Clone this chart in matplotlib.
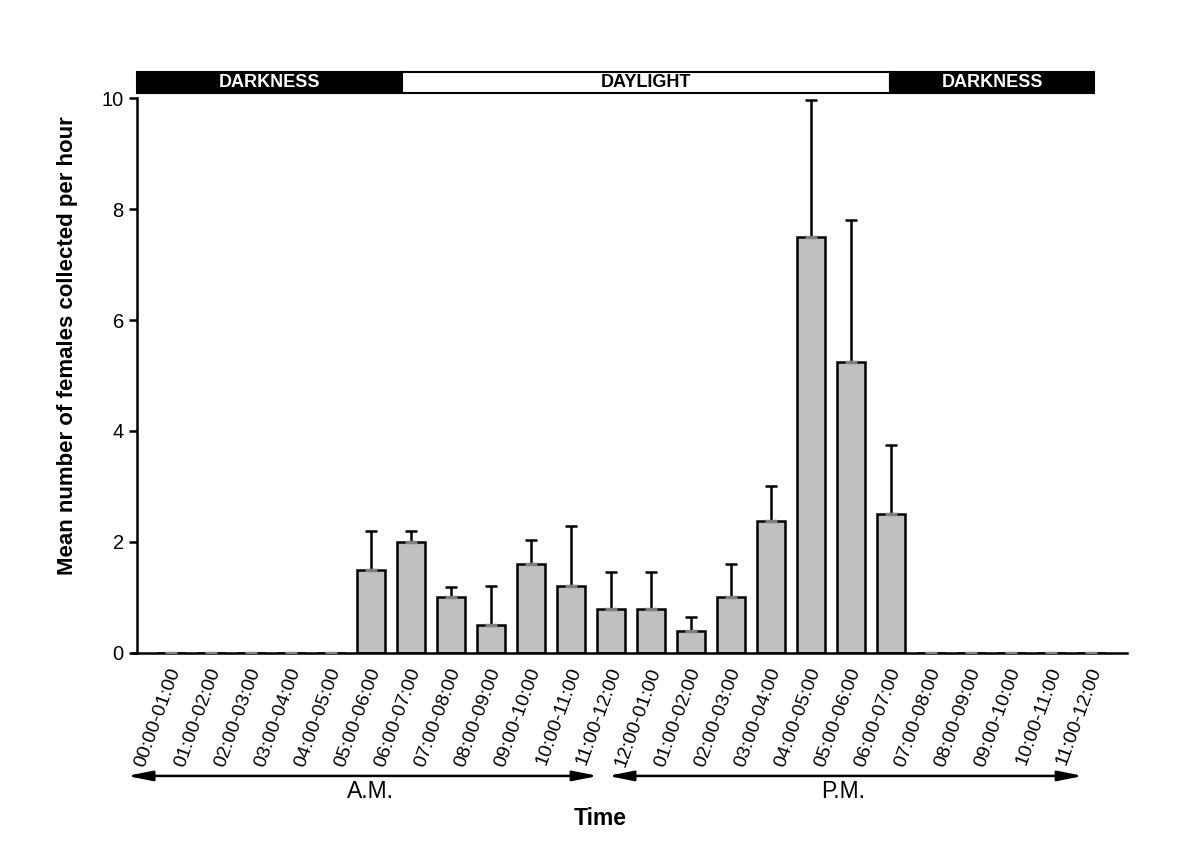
import numpy as np
import matplotlib.pyplot as plt
import matplotlib.transforms as mtransforms

plt.rcParams['font.family'] = ['Liberation Sans', 'DejaVu Sans']

# Hourly intervals (A.M. then P.M.)
hours = ['00:00-01:00', '01:00-02:00', '02:00-03:00', '03:00-04:00',
         '04:00-05:00', '05:00-06:00', '06:00-07:00', '07:00-08:00',
         '08:00-09:00', '09:00-10:00', '10:00-11:00', '11:00-12:00',
         '12:00-01:00', '01:00-02:00', '02:00-03:00', '03:00-04:00',
         '04:00-05:00', '05:00-06:00', '06:00-07:00', '07:00-08:00',
         '08:00-09:00', '09:00-10:00', '10:00-11:00', '11:00-12:00']
means = [0, 0, 0, 0, 0, 1.5, 2.0, 1.0, 0.5, 1.6, 1.2, 0.8,
         0.8, 0.4, 1.0, 2.38, 7.5, 5.25, 2.5, 0, 0, 0, 0, 0]
errs = [0, 0, 0, 0, 0, 0.7, 0.2, 0.19, 0.71, 0.44, 1.08, 0.65,
        0.65, 0.25, 0.6, 0.62, 2.46, 2.55, 1.25, 0, 0, 0, 0, 0]

# light regime bands (start, end in bar index units)
bands = [(-0.85, 5.775, 'DARKNESS', 'black'),
         (5.775, 17.975, 'DAYLIGHT', 'white'),
         (17.975, 23.075, 'DARKNESS', 'black')]

x = np.arange(len(hours))
means = np.array(means)
errs = np.array(errs)

fig = plt.figure(figsize=(12, 8.48), dpi=100)
ax = fig.add_axes([0.1142, 0.230, 0.825, 0.6544])

ax.bar(x, means, width=0.7, color='#c0c0c0', edgecolor='black', linewidth=1.8, zorder=2)
shown = means > 0
ax.errorbar(x[shown], means[shown], yerr=[np.zeros(shown.sum()), errs[shown]],
            fmt='none', ecolor='black', elinewidth=1.8, capsize=4, capthick=1.8, zorder=3)
ax.plot(x, means, ls='none', marker='_', ms=9, mew=2.5, color='#808080', zorder=4)

ax.set_xlim(-0.85, 23.9)
ax.set_ylim(0, 10)
ax.set_yticks([0, 2, 4, 6, 8, 10])
ax.tick_params(axis='y', labelsize=14.5, width=1.8, length=6)
ax.set_xticks(x)
ax.set_xticklabels(hours, rotation=70, ha='right', va='top', rotation_mode='anchor', fontsize=14)
ax.tick_params(axis='x', length=0, pad=9)
for lab in ax.get_xticklabels():
    lab.set_transform(lab.get_transform() + mtransforms.ScaledTranslation(-0.03, 0, fig.dpi_scale_trans))

ax.spines['top'].set_visible(False)
ax.spines['right'].set_visible(False)
ax.spines['left'].set_linewidth(1.8)
ax.spines['bottom'].set_linewidth(1.8)
ax.spines['bottom'].set_bounds(-0.98, 23.9)

ax.set_ylabel('Mean number of females collected per hour', fontsize=16, fontweight='bold')
ax.yaxis.set_label_coords(-0.06, 0.553)

# light/dark bar on top
for x0, x1, name, col in bands:
    ax.add_patch(plt.Rectangle((x0, 10.09), x1 - x0, 0.38, facecolor=col,
                               edgecolor='black', linewidth=1.5, clip_on=False, zorder=5))
    ax.text((x0 + x1) / 2, 10.28, name, ha='center', va='center', fontsize=13,
            fontweight='bold', color='white' if col == 'black' else 'black', zorder=6)

# A.M. / P.M. arrows
trans = mtransforms.blended_transform_factory(ax.transData, ax.transAxes)
arrow = dict(arrowstyle='<|-|>,head_length=1.5,head_width=0.3', color='black', lw=1.8, shrinkA=0, shrinkB=0)
ax.annotate('', xy=(-1.1, -0.2216), xytext=(10.675, -0.2216), xycoords=trans, textcoords=trans,
            arrowprops=arrow, annotation_clip=False)
ax.annotate('', xy=(10.925, -0.2216), xytext=(22.8, -0.2216), xycoords=trans, textcoords=trans,
            arrowprops=arrow, annotation_clip=False)
ax.text(4.975, -0.249, 'A.M.', transform=trans, ha='center', va='center', fontsize=16.5)
ax.text(16.8, -0.249, 'P.M.', transform=trans, ha='center', va='center', fontsize=16.5)
ax.text(10.73, -0.298, 'Time', transform=trans, ha='center', va='center', fontsize=16.5, fontweight='bold')

fig.savefig('out.png', dpi=100)
